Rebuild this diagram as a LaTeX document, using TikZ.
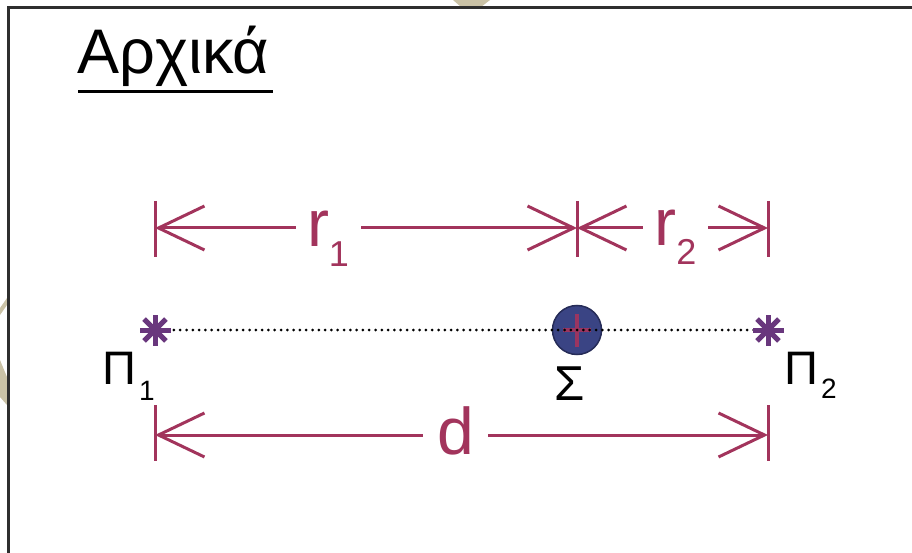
\documentclass[tikz,border=0pt]{standalone}
\usepackage{fontspec}
\setmainfont{Liberation Sans}
\usetikzlibrary{arrows.meta}

\definecolor{dimred}{RGB}{162,52,92}
\definecolor{starpurple}{RGB}{105,55,125}
\definecolor{chargeblue}{RGB}{58,68,132}
\definecolor{chargeedge}{RGB}{38,44,88}
\definecolor{wmark}{RGB}{202,194,166}

\tikzset{
  dimtip/.tip={Straight Barb[length=46pt,width=44pt]},
  dimline/.style={dimred, line width=3pt, dimtip-dimtip},
  dimtick/.style={dimred, line width=3pt},
  dimlabel/.style={fill=white, text=dimred, inner sep=0pt, minimum width=65pt, font=\fontsize{66}{66}\selectfont},
  starline/.style={starpurple, line width=5pt},
}

\begin{document}
\begin{tikzpicture}[x=1pt,y=-1pt]
\useasboundingbox (0,0) rectangle (912,553);

% faint marks at the edges
\fill[wmark] (453,0) -- (490,0) -- (481,7) -- (461,7) -- cycle;
\fill[wmark] (0,308) -- (7,298) -- (7,305) -- (0,315) -- cycle;
\fill[wmark] (0,360) -- (7,377) -- (7,405) -- (0,397) -- cycle;

% frame
\draw[line width=3pt, black!82] (8,553) -- (8,8) -- (912,8);

% title
\node[anchor=base west, inner sep=0pt, font=\fontsize{63}{63}\selectfont] (title) at (77,74) {Αρχικά};
\draw[line width=3pt] (78,91.5) -- (273,91.5);

% top row: r1 and r2
\coordinate (a1) at (155,228);
\coordinate (a2) at (577,228);
\coordinate (a3) at (768,228);
\draw[dimtick] (155,201) -- (155,257);
\draw[dimtick] (577,201) -- (577,257);
\draw[dimtick] (768,201) -- (768,257);
\draw[dimline] (a1) -- (a2);
\draw[dimline] (a2) -- (a3);
\node[dimlabel, anchor=base] (r1) at (328,247) {r\raisebox{-20pt}{\fontsize{36}{36}\selectfont 1}};
\node[dimlabel, anchor=base] (r2) at (675.5,246) {r\raisebox{-19pt}{\fontsize{36}{36}\selectfont 2}};

% middle row: charge and the two points
\node[circle, draw=chargeedge, line width=1.5pt, fill=chargeblue, minimum size=49pt, inner sep=0pt] (s) at (577,330) {};
\draw[line width=4pt, dimred!85!starpurple] (577,314) -- (577,347);
\draw[line width=4pt, dimred!85!starpurple] (563,330) -- (591,330);
\coordinate (p1) at (155,330);
\coordinate (p2) at (768,330);
\draw[line width=3pt, line cap=round, dash pattern=on 0pt off 6.3pt] (p1) -- (p2);
\foreach \a in {0,45,...,315} {
  \draw[starline] (p1) -- ++(\a:15.5);
  \draw[starline] (p2) -- ++(\a:15.5);
}
\node[anchor=base west, inner sep=0pt, font=\fontsize{47}{47}\selectfont] (l1) at (102,384) {Π\hspace{3pt}\raisebox{-16pt}{\fontsize{28}{28}\selectfont 1}};
\node[anchor=base west, inner sep=0pt, font=\fontsize{47}{47}\selectfont] (l2) at (784,384) {Π\hspace{3pt}\raisebox{-14pt}{\fontsize{28}{28}\selectfont 2}};
\node[anchor=base, inner sep=0pt, font=\fontsize{49}{49}\selectfont] (ls) at (570,400) {Σ};

% bottom row: d
\coordinate (b1) at (155,435);
\coordinate (b2) at (768,435);
\draw[dimtick] (155,405) -- (155,461);
\draw[dimtick] (768,405) -- (768,461);
\draw[dimline] (b1) -- (b2);
\node[dimlabel, anchor=base] (d) at (455.5,454) {d};
\end{tikzpicture}
\end{document}
